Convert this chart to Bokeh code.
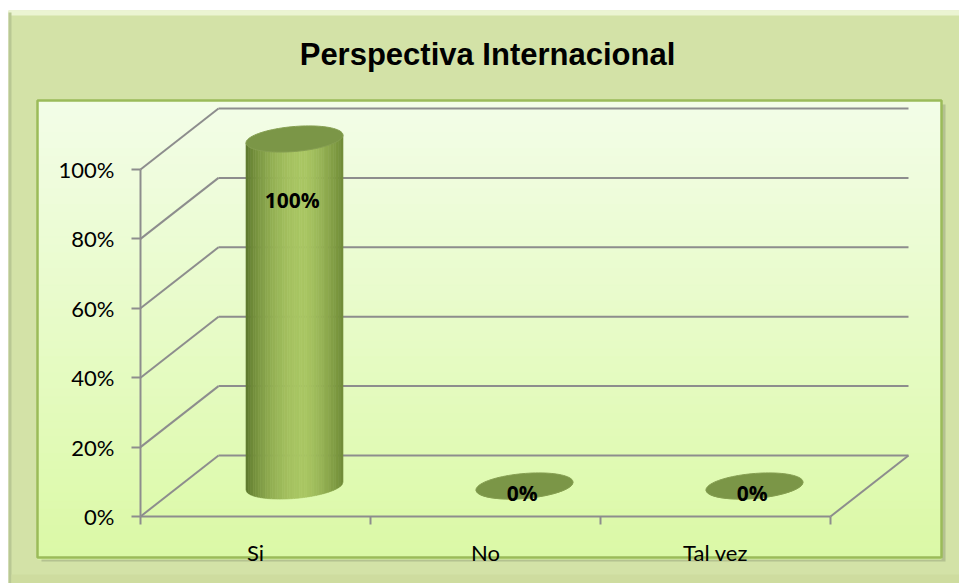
import numpy as np
from bokeh.plotting import figure
from bokeh.models import Range1d, LinearAxis, FixedTicker, NumeralTickFormatter
from bokeh.core.properties import value
from bokeh.embed import file_html
from bokeh.resources import INLINE

# ---------------- data ----------------
title_text = "Perspectiva Internacional"
categories = ["Si", "No", "Tal vez"]
values = [1.00, 0.00, 0.00]
y_ticks = [0.0, 0.2, 0.4, 0.6, 0.8, 1.0]

# ---------------- geometry (pixel calibration) ----------------
W, H = 959, 583
X0, UX = 140.0, 230.0     # pixel of x=0, pixels per category
Y0, UY = 516.0, 347.0     # pixel of y=0, pixels per 100%


def dx(px):
    return (px - X0) / UX


def dy(py):
    return (Y0 - py) / UY


DX = 78 / UX     # depth offset (oblique projection)
DY = 61 / UY
N = len(categories)

GRID = "#8d8d8d"


def hex2rgb(h):
    h = h.lstrip("#")
    return np.array([int(h[i:i + 2], 16) for i in (0, 2, 4)], dtype=float)


def mix(c1, c2, t):
    a, b = hex2rgb(c1), hex2rgb(c2)
    c = a + (b - a) * t
    return "#%02x%02x%02x" % tuple(int(round(v)) for v in c)


p = figure(width=W, height=H, x_range=Range1d(dx(0), dx(W)), y_range=Range1d(dy(H), dy(0)),
           output_backend="svg", toolbar_location=None, title=None,
           x_axis_location=None, y_axis_location=None, min_border=0,
           outline_line_color=None, background_fill_color="white", border_fill_color="white")
p.grid.visible = False

# ---------------- chart area (outer) ----------------
p.quad(left=[dx(8)], right=[dx(W)], top=[dy(10)], bottom=[dy(H)], fill_color="#d3e2a7", line_color=None)
p.quad(left=[dx(8)], right=[dx(W)], top=[dy(10)], bottom=[dy(15)], fill_color="#ebf4d2", line_color=None)
p.quad(left=[dx(8)], right=[dx(11)], top=[dy(12)], bottom=[dy(H)], fill_color="#b9c894", line_color=None)
p.quad(left=[dx(11)], right=[dx(W)], top=[dy(574)], bottom=[dy(H)], fill_color="#cedc9f", line_color=None)

# ---------------- plot area (inner) with gradient ----------------
IL, IR, IT, IB = 37, 941, 100, 557
p.quad(left=[dx(IL + 4)], right=[dx(IR + 4)], top=[dy(IT + 4)], bottom=[dy(IB + 4)],
       fill_color="#a7b386", fill_alpha=0.7, line_color=None)
edges = np.linspace(IT, IB, 58)
cols = [mix("#f3fde8", "#dbf9a6", (k + 0.5) / (len(edges) - 1)) for k in range(len(edges) - 1)]
p.quad(left=[dx(IL)] * len(cols), right=[dx(IR)] * len(cols), top=[dy(e) for e in edges[:-1]],
       bottom=[dy(e + 1.5) for e in edges[1:]], fill_color=cols, line_color=cols, line_width=1)
p.quad(left=[dx(IL)], right=[dx(IR)], top=[dy(IT)], bottom=[dy(IB)], fill_color=None,
       line_color="#9bbb59", line_width=2.5)

# ---------------- 3D walls ----------------
nt = len(y_ticks)
p.segment(x0=[0] * nt, y0=y_ticks, x1=[DX] * nt, y1=[v + DY for v in y_ticks], line_color=GRID, line_width=2)
p.segment(x0=[DX] * nt, y0=[v + DY for v in y_ticks], x1=[N + DX] * nt, y1=[v + DY for v in y_ticks],
          line_color=GRID, line_width=2)
p.segment(x0=[N], y0=[0], x1=[N + DX], y1=[DY], line_color=GRID, line_width=2)

# ---------------- cylinders ----------------
A = 48.5 / UX          # half width (data)
B = 12.5 / UY          # ellipse half height (data)
S = 0.08 * UX / UY     # slight tilt (shear)

EDGE_L, LIGHT, EDGE_R = "#5b762b", "#a9c663", "#6f8a37"


def shade(t):
    if t < 0.6:
        u = t / 0.6
        return mix(EDGE_L, LIGHT, np.sin(u * np.pi / 2) ** 0.8)
    u = (t - 0.6) / 0.4
    return mix(LIGHT, EDGE_R, u ** 1.4)


body_xs, body_ys, body_c = [], [], []
top_xs, top_ys = [], []
lab_x, lab_y, lab_t = [], [], []
NS = 40
phi = np.linspace(0, 2 * np.pi, 90)
for i, v in enumerate(values):
    xc = i + 0.5 + DX / 2
    yb = DY / 2
    yt = v + DY / 2
    xe = np.linspace(xc - A, xc + A, NS + 1)
    for k in range(NS):
        xs = np.linspace(xe[k], xe[k + 1], 4)
        u = np.clip((xs - xc) / A, -1, 1)
        top = yt + S * (xs - xc)
        bot = yb + S * (xs - xc) - B * np.sqrt(1 - u ** 2)
        body_xs.append(list(xs) + list(xs[::-1]))
        body_ys.append(list(top) + list(bot[::-1]))
        body_c.append(shade((k + 0.5) / NS))
    ex = xc + A * np.cos(phi)
    top_xs.append(list(ex))
    top_ys.append(list(yt + S * (ex - xc) + B * np.sin(phi)))
    lab_x.append(xc - 0.01)
    lab_y.append(v * 0.845 + 0.068)
    lab_t.append(f"{v:.0%}")

p.patches(xs=body_xs, ys=body_ys, fill_color=body_c, line_color=body_c, line_width=0.6)
p.patches(xs=top_xs, ys=top_ys, fill_color="#7b9647", line_color="#869f52", line_width=1)

p.text(x=lab_x, y=lab_y, text=lab_t, text_font=value("Open Sans"), text_font_style="bold",
       text_font_size="21px", text_align="center", text_baseline="middle", text_color="black")

# ---------------- title ----------------
p.text(x=[dx(487)], y=[dy(54)], text=[title_text], text_font=value("Liberation Sans"),
       text_font_style="bold", text_font_size="31px", text_align="center", text_baseline="middle",
       text_color="black")

# ---------------- axes ----------------
yax = LinearAxis(fixed_location=0, ticker=FixedTicker(ticks=y_ticks),
                 formatter=NumeralTickFormatter(format="0%"), bounds=(0, 1),
                 axis_line_color=GRID, axis_line_width=2,
                 major_tick_line_color=GRID, major_tick_line_width=2, major_tick_out=9, major_tick_in=0,
                 minor_tick_line_color=None, major_label_standoff=17,
                 major_label_text_font="Lato", major_label_text_font_size="22px",
                 major_label_text_color="black")
p.add_layout(yax, "left")

xax = LinearAxis(fixed_location=0,
                 ticker=FixedTicker(ticks=[i + 0.5 for i in range(N)], minor_ticks=list(range(N + 1))),
                 bounds=(0, N), axis_line_color=GRID, axis_line_width=2,
                 major_tick_line_color=None, major_tick_out=0, major_tick_in=0,
                 minor_tick_line_color=GRID, minor_tick_line_width=2, minor_tick_out=8, minor_tick_in=0,
                 major_label_overrides={i + 0.5: c for i, c in enumerate(categories)},
                 major_label_standoff=14, major_label_text_font="Lato",
                 major_label_text_font_size="22px", major_label_text_color="black")
p.add_layout(xax, "below")

open("out.html", "w").write(file_html(p, INLINE))
